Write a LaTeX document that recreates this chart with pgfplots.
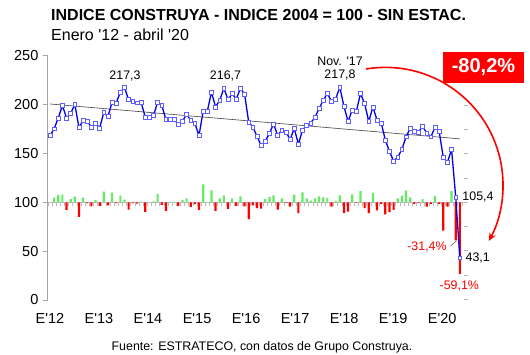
\documentclass[border=0pt]{standalone}
\usepackage{pgfplots}
\pgfplotsset{compat=1.18}
\usepackage{fontspec}
\setmainfont{Liberation Sans}
\usetikzlibrary{arrows.meta}
\definecolor{lineblue}{RGB}{0,0,235}
\definecolor{markblue}{RGB}{95,95,255}
\definecolor{posgreen}{RGB}{100,235,100}
\definecolor{negred}{RGB}{255,0,0}
\definecolor{axgray}{RGB}{165,165,165}
\definecolor{tickgray}{RGB}{185,185,185}
\begin{document}
\begin{tikzpicture}
\path[use as bounding box] (0pt,0pt) rectangle (530pt,354pt);
% secondary axis: monthly variation bars (percent)
\begin{axis}[
  at={(47.9pt,54pt)}, anchor=south west, scale only axis,
  width=416.1pt, height=244.3pt,
  xmin=-0.5, xmax=100, ymin=-80.65, ymax=120.97,
  axis x line=middle, axis y line*=right,
  axis line style={-},
  x axis line style={draw=tickgray, line width=0.5pt},
  y axis line style={draw=none},
  xtick={-0.5,0.5,...,99.5}, xticklabels={},
  ytick={-80,-60,...,120}, yticklabels={},
  xtick style={draw=tickgray, line width=0.6pt},
  ytick style={draw=tickgray, line width=0.8pt},
  tick align=outside,
  x tick style={yshift=0pt},
  major tick length=3.5pt,
  clip=false,
]
\addplot[ybar, bar shift=0pt, bar width=2.2pt, fill=posgreen, draw=none] coordinates {
(1,3.8) (2,6.0) (3,6.3) (5,2.5) (6,4.7) (8,3.8) (11,1.9) (13,8.8) (15,7.9) (17,5.5)
(18,2.2) (22,0.5) (25,0.8) (26,7.1) (29,0.3) (30,0.3) (32,1.9) (33,3.3) (37,14.8) (39,9.9)
(41,3.3) (42,5.8) (44,3.3) (46,4.9) (52,2.7) (53,4.4) (54,5.8) (56,3.3) (59,6.3) (61,8.2)
(62,3.3) (63,1.4) (64,3.3) (65,4.9) (66,4.1) (67,3.6) (69,1.1) (70,5.8) (73,6.6) (75,9.3)
(78,7.7) (84,3.3) (85,5.5) (86,9.9) (87,4.1) (90,2.7) (93,5.2) (97,9.3)
};
\addplot[ybar, bar shift=0pt, bar width=2.2pt, fill=negred, draw=none] coordinates {
(4,-6.3) (7,-12.1) (9,-0.8) (10,-3.3) (12,-3.0) (14,-2.5) (16,-0.8) (19,-6.0) (20,-0.8) (21,-1.1)
(23,-7.9) (27,-2.2) (28,-7.1) (31,-3.0) (34,-3.8) (35,-1.6) (36,-6.3) (40,-7.1) (43,-5.5) (45,-3.0)
(47,-3.3) (48,-14.0) (49,-2.5) (50,-4.9) (51,-5.2) (55,-6.0) (57,-0.5) (58,-3.6) (60,-9.0) (68,-3.6)
(71,-9.0) (72,-7.7) (74,-0.5) (76,-4.9) (77,-9.0) (79,-6.6) (80,-1.4) (81,-9.9) (82,-8.2) (83,-6.3)
(88,-1.4) (89,-0.5) (91,-3.6) (92,-1.4) (94,-1.4) (95,-23.3) (96,-3.6) (98,-31.4) (99,-59.1)
};
\end{axis}
% primary axis: index
\begin{axis}[
  at={(47.9pt,54pt)}, anchor=south west, scale only axis,
  width=416.1pt, height=244.3pt,
  xmin=-0.5, xmax=100, ymin=0, ymax=250,
  axis y line*=left, axis x line*=bottom,
  axis line style={-},
  y axis line style={draw=axgray, line width=0.8pt},
  x axis line style={draw=none},
  ytick={0,50,...,250},
  xtick={0,11.84,23.68,35.52,47.36,59.2,71.04,82.88,94.72},
  xticklabels={E\textquotesingle12,E\textquotesingle13,E\textquotesingle14,E\textquotesingle15,E\textquotesingle16,E\textquotesingle17,E\textquotesingle18,E\textquotesingle19,E\textquotesingle20},
  ytick style={draw=axgray, line width=0.8pt},
  xtick style={draw=none},
  ytick align=outside, xtick align=outside,
  major tick length=5pt,
  /pgf/number format/assume math mode=true,
  tick label style={font=\fontsize{14.5}{16}\selectfont, text=black},
  xticklabel style={yshift=-5pt},
  yticklabel style={xshift=-1pt},
  clip=false,
]
\addplot[black!75, line width=0.6pt] coordinates {(0,200.6) (99,164.9)};
\addplot[lineblue, line width=1.3pt, mark=square*, mark size=1.9pt,
  mark options={fill=white, draw=markblue, line width=0.6pt}] coordinates {
(0,168.4) (1,175.1) (2,186.3) (3,199.0) (4,186.3) (5,190.8) (6,200.3) (7,176.5) (8,183.7) (9,182.7)
(10,177.1) (11,180.9) (12,176.1) (13,191.8) (14,187.8) (15,202.3) (16,201.6) (17,212.9) (18,217.3) (19,205.0)
(20,203.2) (21,201.8) (22,202.5) (23,187.3) (24,187.3) (25,189.0) (26,202.2) (27,199.5) (28,184.7) (29,184.7)
(30,185.0) (31,179.4) (32,182.7) (33,190.4) (34,183.7) (35,180.6) (36,168.4) (37,193.2) (38,193.2) (39,212.6)
(40,197.6) (41,204.4) (42,216.7) (43,205.1) (44,211.2) (45,205.7) (46,216.5) (47,210.8) (48,182.0) (49,177.1)
(50,167.6) (51,158.1) (52,162.6) (53,170.4) (54,180.2) (55,168.4) (56,173.8) (57,172.0) (58,164.3) (59,175.5)
(60,159.5) (61,173.8) (62,178.9) (63,181.2) (64,187.0) (65,195.9) (66,204.4) (67,211.2) (68,203.4) (69,205.7)
(70,217.8) (71,198.3) (72,182.7) (73,194.5) (74,193.2) (75,211.2) (76,201.0) (77,182.7) (78,197.6) (79,184.0)
(80,181.2) (81,163.6) (82,152.0) (83,142.1) (84,146.2) (85,154.1) (86,167.0) (87,175.5) (88,172.4) (89,172.0)
(90,177.6) (91,171.0) (92,167.0) (93,176.8) (94,172.4) (95,145.9) (96,141.0) (97,154.0) (98,105.4) (99,43.1)
};
\end{axis}
% titles
\node[anchor=base west, inner sep=0pt, font=\fontsize{16}{18}\selectfont\bfseries] at (51pt,333.5pt) {INDICE CONSTRUYA - INDICE 2004 = 100 - SIN ESTAC.};
\node[anchor=base west, inner sep=0pt, font=\fontsize{16}{18}\selectfont] at (51pt,313.5pt) {Enero \textquotesingle12 - abril \textquotesingle20};
% annotations
\begin{scope}[every node/.style={inner sep=0pt, font=\fontsize{12.4}{14}\selectfont}]
\node at (125pt,278.3pt) {217,3};
\node at (225.5pt,278pt) {216,7};
\node at (340pt,292.5pt) {Nov. \textquotesingle17};
\node at (340pt,279pt) {217,8};
\node at (478pt,157.3pt) {105,4};
\node at (477.7pt,95.7pt) {43,1};
\node[text=negred] at (427pt,107.3pt) {-31,4\%};
\node[text=negred] at (459.3pt,68.3pt) {-59,1\%};
\node at (262pt,6.3pt) {Fuente: ESTRATECO, con datos de Grupo Construya.};
\end{scope}
\draw[black!70, line width=0.5pt] (450.7pt,108pt) -- (456.7pt,113.3pt);
\draw[negred, line width=1.6pt, -{Stealth[length=8pt,width=7pt]}] (366pt,285pt) arc[start angle=99.5, end angle=-28.4, radius=117.6pt];
\fill[negred] (443pt,271pt) rectangle (524pt,302pt);
\node[text=white, font=\fontsize{20}{22}\selectfont\bfseries, inner sep=0pt] at (483.5pt,286.5pt) {-80,2\%};
\end{tikzpicture}
\end{document}
